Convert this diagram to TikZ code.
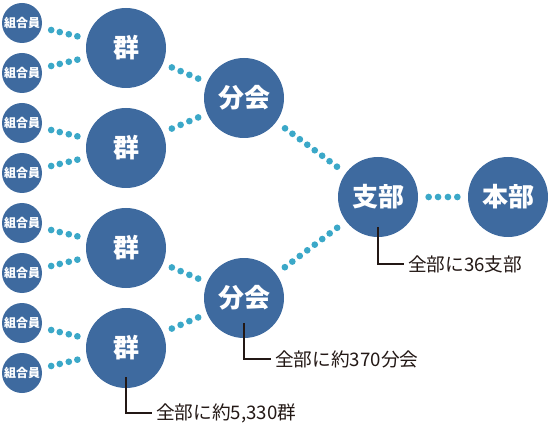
\documentclass[tikz,border=0pt]{standalone}
\usepackage{fontspec}
\usepackage{tikz}
\usetikzlibrary{positioning, calc}
\setmainfont{Noto Sans CJK JP}
\definecolor{circblue}{RGB}{62,106,159}
\definecolor{dotteal}{RGB}{59,168,200}
\definecolor{notetext}{RGB}{35,24,21}

\begin{document}
\begin{tikzpicture}[x=0.75pt,y=0.75pt,yscale=-1,xscale=1,
    member/.style={circle, fill=circblue, text=white, minimum size=30pt, inner sep=0pt, font=\bfseries\fontsize{9}{10}\selectfont},
    unit/.style={circle, fill=circblue, text=white, minimum size=60pt, inner sep=0pt, font=\bfseries\fontsize{19.5}{20}\selectfont},
    dot/.style={circle, fill=dotteal, inner sep=0pt, minimum size=5pt},
    leader/.style={draw=notetext, line width=0.8pt},
    note/.style={anchor=west, text=notetext, inner xsep=3pt, font=\fontsize{14}{15}\selectfont}]
\useasboundingbox (0,0) rectangle (548,427);
%Members
\node[member] (m1) at (22,23) {組合員};
\node[member] (m2) at (22,73) {組合員};
\node[member] (m3) at (22,123) {組合員};
\node[member] (m4) at (22,173) {組合員};
\node[member] (m5) at (22,223) {組合員};
\node[member] (m6) at (22,273) {組合員};
\node[member] (m7) at (22,323) {組合員};
\node[member] (m8) at (22,373) {組合員};
%Groups
\node[unit] (g1) at (126,48) {群};
\node[unit] (g2) at (126,148) {群};
\node[unit] (g3) at (126,248) {群};
\node[unit] (g4) at (126,348) {群};
%Subbranches, branch, head office
\node[unit] (b1) at (244,98) {分会};
\node[unit] (b2) at (244,298) {分会};
\node[unit] (sb) at (378,197) {支部};
\node[unit] (hb) at (508,197) {本部};
%Dotted links member -> group
\path (m1) -- (g1) \foreach \p in {0.21,0.4,0.6,0.79} {node[dot,pos=\p]{}};
\path (m2) -- (g1) \foreach \p in {0.21,0.4,0.6,0.79} {node[dot,pos=\p]{}};
\path (m3) -- (g2) \foreach \p in {0.21,0.4,0.6,0.79} {node[dot,pos=\p]{}};
\path (m4) -- (g2) \foreach \p in {0.21,0.4,0.6,0.79} {node[dot,pos=\p]{}};
\path (m5) -- (g3) \foreach \p in {0.21,0.4,0.6,0.79} {node[dot,pos=\p]{}};
\path (m6) -- (g3) \foreach \p in {0.21,0.4,0.6,0.79} {node[dot,pos=\p]{}};
\path (m7) -- (g4) \foreach \p in {0.21,0.4,0.6,0.79} {node[dot,pos=\p]{}};
\path (m8) -- (g4) \foreach \p in {0.21,0.4,0.6,0.79} {node[dot,pos=\p]{}};
%Dotted links group -> subbranch
\path (g1) -- (b1) \foreach \p in {0.2,0.4,0.6,0.8} {node[dot,pos=\p]{}};
\path (g2) -- (b1) \foreach \p in {0.2,0.4,0.6,0.8} {node[dot,pos=\p]{}};
\path (g3) -- (b2) \foreach \p in {0.2,0.4,0.6,0.8} {node[dot,pos=\p]{}};
\path (g4) -- (b2) \foreach \p in {0.2,0.4,0.6,0.8} {node[dot,pos=\p]{}};
%Dotted links subbranch -> branch -> head office
\path (b1) -- (sb) \foreach \p in {0.125,0.232,0.339,0.446,0.554,0.661,0.768,0.875} {node[dot,pos=\p]{}};
\path (b2) -- (sb) \foreach \p in {0.125,0.232,0.339,0.446,0.554,0.661,0.768,0.875} {node[dot,pos=\p]{}};
\path (sb) -- (hb) \foreach \p in {0.21,0.4,0.6,0.79} {node[dot,pos=\p]{}};
%Notes
\node[note] (ng) at (152,413) {全部に約5,330群};
\draw[leader] ($(g4)+(0,29)$) |- (ng.west);
\node[note] (nb) at (271,359) {全部に約370分会};
\draw[leader] ($(b2)+(0,25)$) |- (nb.west);
\node[note] (ns) at (404,264) {全部に36支部};
\draw[leader] ($(sb)+(0,30)$) |- (ns.west);
\end{tikzpicture}
\end{document}
